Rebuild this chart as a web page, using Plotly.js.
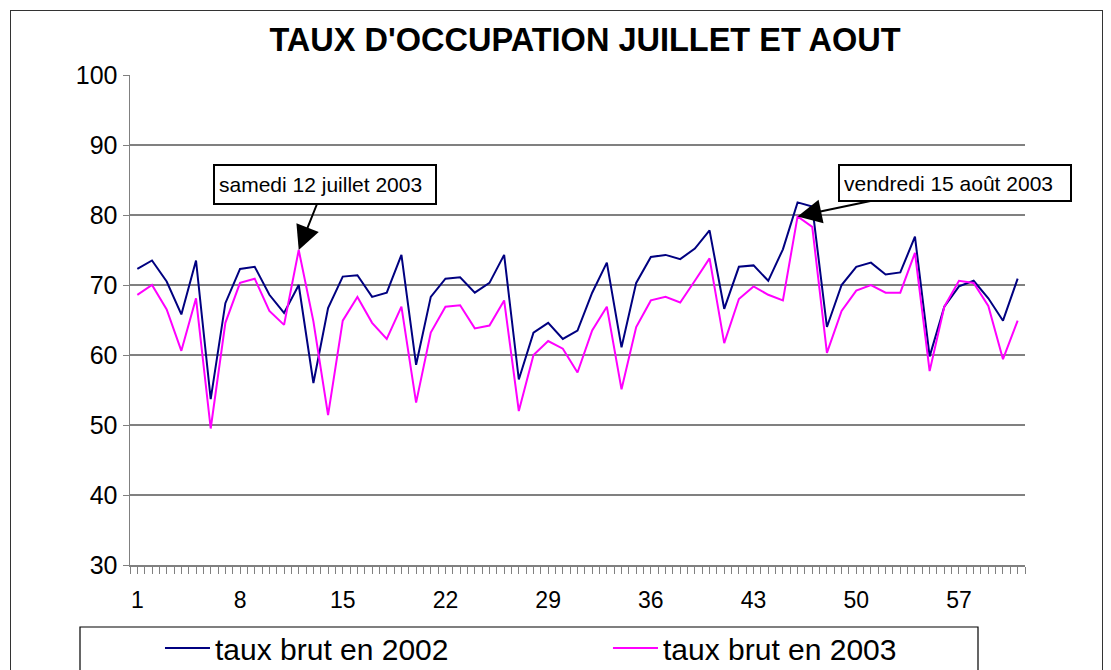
<!DOCTYPE html>
<html>
<head>
<meta charset="utf-8">
<script src="https://cdn.plot.ly/plotly-3.0.1.min.js"></script>
<style>
  html, body { margin: 0; padding: 0; background: #fff; overflow: hidden; }
  #wrap { position: relative; width: 1111px; height: 670px; }
  #chart { width: 1111px; height: 670px; }
  #frame { position: absolute; left: 10px; top: 10px; width: 1093px; height: 720px;
           border: 1.5px solid #333; pointer-events: none; box-sizing: border-box; }
</style>
</head>
<body>
<div id="wrap">
  <div id="chart"></div>
  <div id="frame"></div>
</div>
<script>
// ---- data ----
const days = [1,2,3,4,5,6,7,8,9,10,11,12,13,14,15,16,17,18,19,20,21,22,23,24,25,26,27,28,29,30,
              31,32,33,34,35,36,37,38,39,40,41,42,43,44,45,46,47,48,49,50,51,52,53,54,55,56,57,58,59,60,61];
const taux2002 = [72.3,73.5,70.5,65.8,73.5,53.7,67.4,72.3,72.6,68.6,66.0,70.0,
                  56.0,66.7,71.2,71.4,68.3,68.9,74.3,58.6,68.3,70.9,71.1,68.9,70.3,
                  74.3,56.5,63.2,64.6,62.3,63.5,68.9,73.2,61.1,70.3,74.0,74.3,
                  73.7,75.2,77.8,66.6,72.6,72.8,70.6,75.1,81.8,81.2,64.0,70.0,
                  72.6,73.2,71.5,71.8,76.9,59.8,66.9,69.8,70.6,68.1,64.9,70.9];
const taux2003 = [68.6,70.0,66.5,60.6,68.1,49.5,64.6,70.3,70.9,66.3,64.3,75.0,
                  64.8,51.4,64.9,68.3,64.6,62.3,66.9,53.2,63.2,66.9,67.1,63.8,64.2,
                  67.8,52.0,60.0,62.0,60.9,57.5,63.5,66.9,55.1,64.0,67.8,68.3,
                  67.5,70.6,73.8,61.7,68.0,69.8,68.6,67.8,79.8,78.3,60.3,66.3,
                  69.2,70.0,68.9,68.9,74.6,57.7,66.9,70.6,70.3,67.0,59.4,64.9];
const xTickVals = [1,8,15,22,29,36,43,50,57];
const xTickText = ['1','8','15','22','29','36','43','50','57'];
const yTickVals = [30,40,50,60,70,80,90,100];
const seriesNames = ['taux brut en 2002','taux brut en 2003'];
const chartTitle = "TAUX D'OCCUPATION JUILLET ET AOUT";
const note1 = {text: 'samedi 12 juillet 2003', day: 12, value: taux2003[11]};
const note2 = {text: 'vendredi 15 août 2003', day: 46, value: taux2003[45]};

const FONT = 'Liberation Sans, Arial, sans-serif';
const GRID = '#808080';

const traces = [
  {x: days, y: taux2002, type: 'scatter', mode: 'lines', name: seriesNames[0],
   line: {color: '#000080', width: 2}},
  {x: days, y: taux2003, type: 'scatter', mode: 'lines', name: seriesNames[1],
   line: {color: '#FF00FF', width: 2}}
];

const layout = {
  width: 1111, height: 670,
  margin: {l: 130, r: 86, t: 75, b: 105, autoexpand: false},
  paper_bgcolor: '#fff', plot_bgcolor: '#fff',
  font: {family: FONT, color: '#000'},
  title: {text: '<b>' + chartTitle + '</b>', font: {family: FONT, size: 32.5, color: '#000'},
          x: 0.5266, xanchor: 'center', y: 1 - 40/670, yanchor: 'middle'},
  xaxis: {
    range: [0.5, 61.5], tickmode: 'array', tickvals: xTickVals, ticktext: xTickText,
    ticks: 'outside', ticklen: 7, tickwidth: 1, tickcolor: GRID,
    minor: {tickmode: 'linear', tick0: 0.5, dtick: 0.5, ticks: 'outside', ticklen: 7,
            tickwidth: 1, tickcolor: GRID, showgrid: false},
    showline: true, linecolor: GRID, linewidth: 1.5, showgrid: false, zeroline: false,
    tickfont: {family: FONT, size: 23, color: '#000'}, ticklabelstandoff: 7,
    fixedrange: true
  },
  xaxis2: {
    overlaying: 'x', anchor: 'y', side: 'bottom', range: [0.5, 61.5],
    tickmode: 'linear', tick0: 0.5, dtick: 0.5, ticks: 'inside', ticklen: 7,
    tickwidth: 1, tickcolor: GRID, showticklabels: false, showgrid: false,
    showline: false, zeroline: false
  },
  yaxis: {
    range: [30, 100], tickmode: 'array', tickvals: yTickVals,
    ticks: 'outside', ticklen: 6, tickwidth: 1, tickcolor: GRID,
    showline: true, linecolor: GRID, linewidth: 1.5,
    showgrid: true, gridcolor: GRID, gridwidth: 1.5, zeroline: false,
    tickfont: {family: FONT, size: 25, color: '#000'}, ticklabelstandoff: 0,
    fixedrange: true
  },
  showlegend: true,
  legend: {
    orientation: 'h', x: 0.0335, xanchor: 'left', y: (565-622)/490, yanchor: 'top',
    font: {family: FONT, size: 30, color: '#000'}, bgcolor: 'rgba(0,0,0,0)',
    borderwidth: 0, itemwidth: 45, entrywidth: 388, entrywidthmode: 'pixels',
    traceorder: 'normal'
  },
  shapes: [
    {type: 'rect', xref: 'paper', yref: 'paper',
     x0: (80-130)/895, x1: (978-130)/895, y0: (565-627)/490, y1: (565-720)/490,
     line: {color: '#000', width: 1.2}, fillcolor: 'rgba(0,0,0,0)', layer: 'above'}
  ],
  annotations: [
    {x: note1.day, y: note1.value, xref: 'x', yref: 'y', text: note1.text,
     showarrow: true, ax: 26, ay: -65.5, arrowhead: 2, arrowsize: 2.4, arrowwidth: 2,
     arrowcolor: '#000', standoff: 0,
     font: {family: FONT, size: 21, color: '#000'}, align: 'left',
     bgcolor: '#fff', bordercolor: '#000', borderwidth: 2, borderpad: 4,
     width: 212, height: 29},
    {x: note2.day, y: note2.value, xref: 'x', yref: 'y', text: note2.text,
     showarrow: true, ax: 157.5, ay: -33.5, arrowhead: 2, arrowsize: 2.4, arrowwidth: 2,
     arrowcolor: '#000', standoff: 0,
     font: {family: FONT, size: 21, color: '#000'}, align: 'left',
     bgcolor: '#fff', bordercolor: '#000', borderwidth: 2, borderpad: 4,
     width: 222, height: 26}
  ]
};

Plotly.newPlot('chart', traces, layout, {displayModeBar: false, staticPlot: true});
</script>
</body>
</html>
